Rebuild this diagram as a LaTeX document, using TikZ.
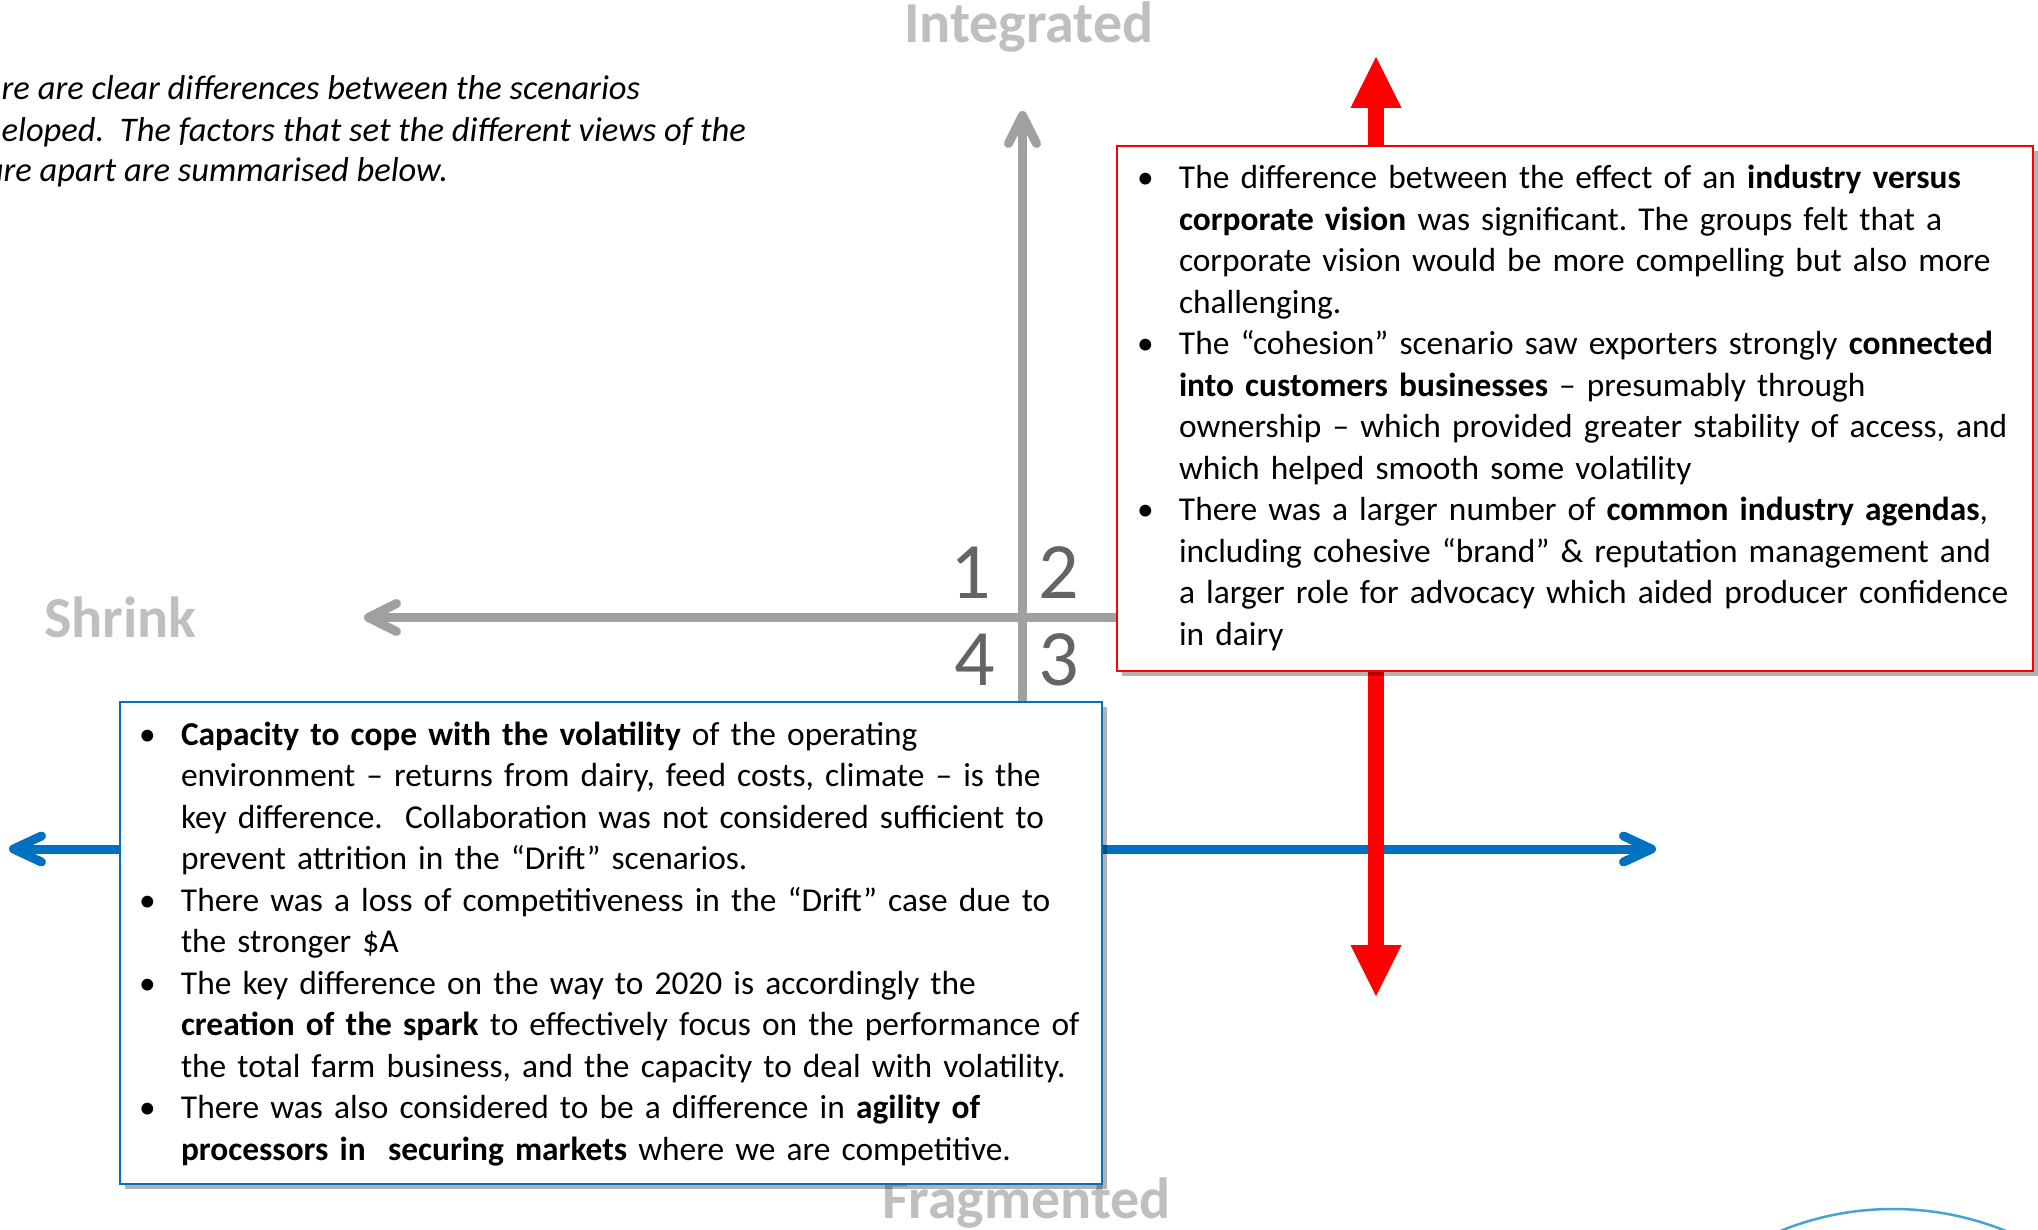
\documentclass[tikz,border=0pt]{standalone}
\usepackage{fontspec}
\setmainfont{Carlito}
\usetikzlibrary{arrows.meta,shadows}
\definecolor{axisgray}{RGB}{160,160,160}
\definecolor{labelgray}{RGB}{191,191,191}
\definecolor{numgray}{RGB}{100,100,100}
\definecolor{blueline}{RGB}{0,112,192}
\definecolor{arcblue}{RGB}{70,165,205}
\newcommand{\bul}{\leavevmode\llap{\makebox[42pt][l]{•}}}
\frenchspacing
\begin{document}
\begin{tikzpicture}[x=1pt,y=-1pt,
  axislabel/.style={font=\fontsize{58}{62}\selectfont\bfseries, text=labelgray, inner sep=0pt, outer sep=0pt},
  quadnum/.style={font=\fontsize{80}{80}\selectfont, text=numgray, inner sep=0pt, outer sep=0pt},
  grayaxis/.style={draw=axisgray, line width=9pt, -{Straight Barb[round,length=28pt,width=28pt]}},
  bluearrow/.style={draw=blueline, line width=9pt, {Straight Barb[round,length=28pt,width=26pt]}-{Straight Barb[round,length=28pt,width=26pt]}},
  redarrow/.style={draw=red, line width=16pt, {Triangle[length=51pt,width=51pt,line width=0.1pt]}-{Triangle[length=51pt,width=51pt,line width=0.1pt]}},
  notebox/.style={fill=white, line width=2.5pt, inner sep=0pt, outer sep=0pt, anchor=north west, drop shadow={shadow xshift=5pt, shadow yshift=-5pt, opacity=0.3, fill=black}},
  bodytext/.style={font=\fontsize{33.4}{41.5}\selectfont\frenchspacing, inner sep=0pt, outer sep=0pt, anchor=base west, text width=1000pt},
  intro/.style={font=\fontsize{34.5}{41.5}\selectfont\itshape, inner sep=0pt, outer sep=0pt, anchor=base east}
]
\useasboundingbox (0,0) rectangle (2038,1230);
\fill[white] (0,0) rectangle (2038,1230);
\clip (0,0) rectangle (2038,1230);

% intro text (cut at the left edge)
\node[intro] (intro1) at (640,100) {re are clear differences between the scenarios};
\node[intro] (intro2) at (746,142) {eloped.\ \ The factors that set the different views of the};
\node[intro] (intro3) at (448,182) {ure apart are summarised below.};

% axis labels
\node[axislabel, anchor=base west] (integ) at (904,43) {Integrated};
\node[axislabel, anchor=base west] (shrink) at (44,637) {Shrink};
\node[axislabel, anchor=base west] (frag) at (882,1218) {Fragmented};

% grey axes
\coordinate (vtop) at (1022.5,111);
\coordinate (vbot) at (1022.5,702);
\coordinate (hleft) at (364,617.5);
\coordinate (hright) at (1120,617.5);
\draw[grayaxis] (vbot) -- (vtop);
\draw[grayaxis] (hright) -- (hleft);

% quadrant numbers
\node[quadnum, anchor=base east] (q1) at (991,598) {1};
\node[quadnum, anchor=base west] (q2) at (1038,598) {2};
\node[quadnum, anchor=base east] (q4) at (995,685) {4};
\node[quadnum, anchor=base west] (q3) at (1038,685) {3};

% blue and red arrows
\coordinate (bleft) at (9,849);
\coordinate (bright) at (1656,849);
\draw[bluearrow] (bleft) -- (bright);
\coordinate (rtop) at (1376,57);
\coordinate (rbot) at (1376,996);
\draw[redarrow] (rbot) -- (rtop);

% teal arc at the bottom right
\draw[arcblue, line width=2.5pt] (1893,1508) circle[radius=299pt];

% red box
\node[notebox, draw=red, minimum width=916pt, minimum height=525pt] (redbox) at (1117,146) {};
\node[bodytext] (redtext) at (1179,189) {%
\bul The difference between the effect of an \textbf{industry versus}\\
\textbf{corporate vision} was significant. The groups felt that a\\
corporate vision would be more compelling but also more\\
challenging.\\
\bul The “cohesion” scenario saw exporters strongly \textbf{connected}\\
\textbf{into customers businesses} – presumably through\\
ownership – which provided greater stability of access, and\\
which helped smooth some volatility\\
\bul There was a larger number of \textbf{common industry agendas},\\
including cohesive “brand” \& reputation management and\\
a larger role for advocacy which aided producer confidence\\
in dairy};

% blue box
\node[notebox, draw=blueline, minimum width=982pt, minimum height=482pt] (bluebox) at (120,702) {};
\node[bodytext] (bluetext) at (181,745) {%
\bul \textbf{Capacity to cope with the volatility} of the operating\\
environment – returns from dairy, feed costs, climate – is the\\
key difference.\ \ Collaboration was not considered sufficient to\\
prevent attrition in the “Drift” scenarios.\\
\bul There was a loss of competitiveness in the “Drift” case due to\\
the stronger \$A\\
\bul The key difference on the way to 2020 is accordingly the\\
\textbf{creation of the spark} to effectively focus on the performance of\\
the total farm business, and the capacity to deal with volatility.\\
\bul There was also considered to be a difference in \textbf{agility of}\\
\textbf{processors in\ \ securing markets} where we are competitive.};
\end{tikzpicture}
\end{document}
